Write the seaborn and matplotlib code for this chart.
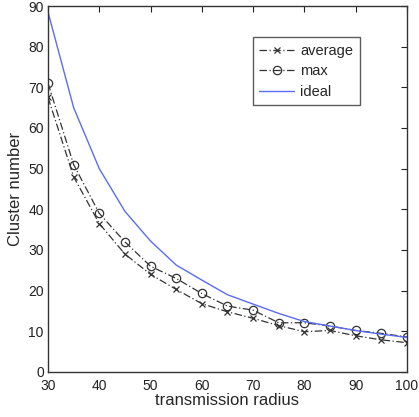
import matplotlib
matplotlib.use("Agg")
import matplotlib.pyplot as plt
import seaborn as sns
import numpy as np

radius = [30, 35, 40, 45, 50, 55, 60, 65, 70, 75, 80, 85, 90, 95, 100]
average = [67.5, 48, 36.5, 29, 24, 20.3, 16.8, 14.8, 13.2, 11.4, 9.9, 10.2, 8.9, 7.9, 7.2]
maximum = [71, 51, 39, 32, 26, 23, 19.3, 16.2, 15.2, 12.1, 12.1, 11.3, 10.2, 9.5, 8.6]
ideal = [88.5, 65, 50, 39.5, 32.2, 26.3, 22.6, 19, 16.7, 14.4, 12.4, 11.3, 10.2, 9.3, 8.5]

sns.set_style("white")
plt.rcParams['font.family'] = ['Liberation Sans', 'DejaVu Sans']

fig = plt.figure(figsize=(4.19, 4.17), dpi=100)
ax = fig.add_axes([0.1146, 0.108, 0.8564, 0.8776])

dark = "#333333"
sns.lineplot(x=radius, y=average, ax=ax, color=dark, linestyle=(0, (6, 2, 1, 2)),
             marker="x", markersize=4, markeredgecolor=dark, markeredgewidth=0.9,
             linewidth=0.9, label="average")
sns.lineplot(x=radius, y=maximum, ax=ax, color=dark, linestyle=(0, (6, 2, 1, 2)),
             marker="o", markersize=6, markerfacecolor="none", markeredgecolor=dark,
             markeredgewidth=0.9, linewidth=0.9, label="max")
sns.lineplot(x=radius, y=ideal, ax=ax, color="#5a6cf0", linewidth=1.0, label="ideal")

ax.set_xlim(30, 100)
ax.set_ylim(0, 90)
ax.set_xticks(np.arange(30, 101, 10))
ax.set_yticks(np.arange(0, 91, 10))
ax.tick_params(direction="in", length=4, width=0.8, top=True, right=True,
               labelsize=10, colors="#222222")
ax.tick_params(axis="x", pad=5)
ax.tick_params(axis="y", pad=3)
for s in ax.spines.values():
    s.set_color(dark)
    s.set_linewidth(1.0)
ax.set_xlabel("transmission radius", fontsize=12, labelpad=0)
ax.set_ylabel("Cluster number", fontsize=12, labelpad=4)

leg = ax.legend(loc="upper right", bbox_to_anchor=(0.869, 0.915), fontsize=10.5,
                frameon=True, fancybox=False, handlelength=2.4, borderpad=0.45,
                labelspacing=0.45, handletextpad=0.4, borderaxespad=0)
leg.get_frame().set_edgecolor(dark)
leg.get_frame().set_linewidth(1.0)

fig.savefig("out.png", dpi=100)
